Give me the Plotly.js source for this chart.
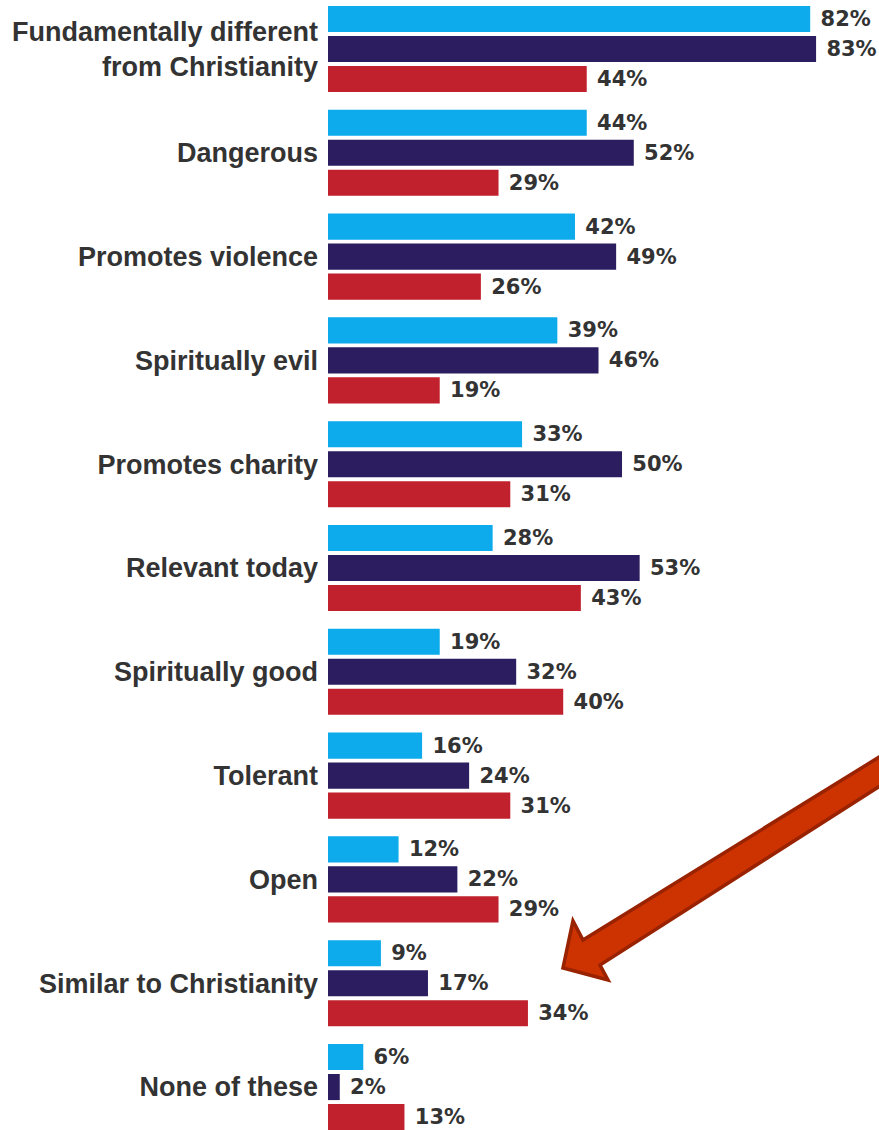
<!DOCTYPE html>
<html>
<head>
<meta charset="utf-8">
<script src="https://cdn.plot.ly/plotly-3.0.1.min.js"></script>
<style>html,body{margin:0;padding:0;background:#fff;}#chart{width:879px;height:1130px;}</style>
</head>
<body>
<div id="chart"></div>
<script>
var categories = [
  "Fundamentally different<br>from Christianity",
  "Dangerous",
  "Promotes violence",
  "Spiritually evil",
  "Promotes charity",
  "Relevant today",
  "Spiritually good",
  "Tolerant",
  "Open",
  "Similar to Christianity",
  "None of these"
];
var lightBlueValues = [82, 44, 42, 39, 33, 28, 19, 16, 12, 9, 6];
var navyValues      = [83, 52, 49, 46, 50, 53, 32, 24, 22, 17, 2];
var redValues       = [44, 29, 26, 19, 31, 43, 40, 31, 29, 34, 13];

var W = 879, H = 1130, L = 328;
var labelFont = {family: "DejaVu Sans", size: 21, color: "#333333", weight: "bold"};

function mk(vals, color, name) {
  return {
    type: "bar", orientation: "h", name: name,
    y: categories, x: vals,
    marker: {color: color, line: {width: 0}},
    text: vals.map(function(v){ return "\u00a0" + v + "%"; }),
    textposition: "outside",
    textfont: labelFont, outsidetextfont: labelFont,
    constraintext: "none", cliponaxis: false,
    hoverinfo: "skip"
  };
}

var data = [
  mk(lightBlueValues, "#0DAAEC", "Series 1"),
  mk(navyValues, "#2B1D5F", "Series 2"),
  mk(redValues, "#C1202D", "Series 3")
];

// arrow in pixel coordinates -> paper coordinates
function px(x){ return ((x - L) / (W - L)).toFixed(4); }
function py(y){ return (1 - y / H).toFixed(4); }
var pts = [[563,968],[573,921],[583,940],[905,741],[905,770],[600,965],[608,980]];
var path = pts.map(function(p,i){ return (i ? "L" : "M") + px(p[0]) + "," + py(p[1]); }).join(" ") + " Z";

var layout = {
  width: W, height: H,
  margin: {l: L, r: 0, t: 0, b: 0, pad: 0},
  paper_bgcolor: "#ffffff", plot_bgcolor: "#ffffff",
  showlegend: false,
  barmode: "group",
  bargap: 0.133, bargroupgap: 0.13,
  xaxis: {range: [0, 93.7], visible: false, fixedrange: true},
  yaxis: {
    type: "category",
    range: [10.414, -0.472],
    showgrid: false, zeroline: false, showline: false,
    ticks: "", ticklabelstandoff: 9,
    tickfont: {family: "Liberation Sans", size: 27, color: "#333333", weight: "bold"},
    automargin: false, fixedrange: true
  },
  shapes: [{
    type: "path", xref: "paper", yref: "paper",
    path: path,
    fillcolor: "#CC3300",
    line: {color: "#992200", width: 3.5}
  }]
};

Plotly.newPlot("chart", data, layout, {displayModeBar: false, staticPlot: true});
</script>
</body>
</html>
